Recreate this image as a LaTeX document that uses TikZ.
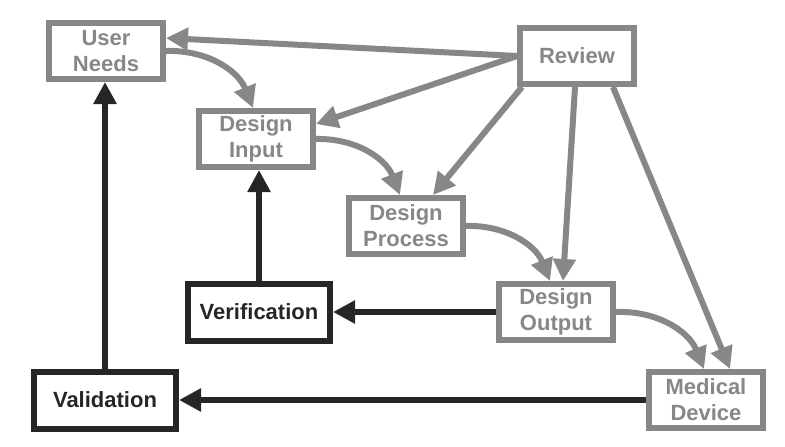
\documentclass[tikz,border=0pt]{standalone}
\usepackage{fontspec}
\setmainfont{Liberation Sans}
\usepackage{tikz}
\usetikzlibrary{arrows.meta,positioning}
\definecolor{revgray}{HTML}{878787}
\definecolor{vvblack}{HTML}{262626}
\tikzset{
    %Define standard arrow tip
    bigtip/.tip={Triangle[length=22pt,width=22pt]},
    %Define style for boxes
    graybox/.style={
           rectangle,
           draw=revgray, line width=6pt,
           minimum width=114pt,
           minimum height=56pt,
           font=\fontsize{22}{26}\selectfont\bfseries,
           text=revgray,
           align=center},
    blackbox/.style={
           rectangle,
           draw=vvblack, line width=6pt,
           minimum width=142pt,
           minimum height=57pt,
           font=\fontsize{22}{26}\selectfont\bfseries,
           text=vvblack,
           align=center},
    % Define arrow style
    gpil/.style={
           -bigtip,
           draw=revgray, line width=6pt},
    bpil/.style={
           -bigtip,
           draw=vvblack, line width=6pt}
}
\begin{document}
\begin{tikzpicture}[x=1pt,y=1pt]
\useasboundingbox (0,0) rectangle (785,-447);
 %nodes
\node[graybox](un) at (106,-51){User\\Needs};
\node[graybox](di) at (256,-139){Design\\Input};
\node[graybox](rev) at (577,-56){Review};
\node[graybox](dp) at (406,-226){Design\\Process};
\node[graybox](dout) at (556,-312){Design\\Output};
\node[graybox](md) at (706,-400){Medical\\Device};
\node[blackbox](ver) at (259,-312){Verification};
\node[blackbox](val) at (105,-400){Validation};

 %review and design flow
 \path[every edge/.style=gpil]
    (rev.west) edge ([yshift=13pt]un.east)
    	edge ([yshift=15pt]di.east)
    ([xshift=-55pt]rev.south) edge ([xshift=27pt]dp.north)
    ([xshift=-2pt]rev.south) edge ([xshift=7pt]dout.north)
    ([xshift=36pt]rev.south) edge ([xshift=24pt]md.north)
    (un.east) edge[bend left=35] ([xshift=-3pt]di.north)
    (di.east) edge[bend left=35] ([xshift=-6pt]dp.north)
    (dp.east) edge[bend left=35] ([xshift=-6pt]dout.north)
    (dout.east) edge[bend left=35] ([xshift=-2pt]md.north);

 %verification and validation
 \path[every edge/.style=bpil]
    (dout.west) edge (ver.east)
    (md.west) edge (val.east)
    (ver.north) edge (ver.north |- di.south)
    (val.north) edge (val.north |- un.south);
\end{tikzpicture}
\end{document}
